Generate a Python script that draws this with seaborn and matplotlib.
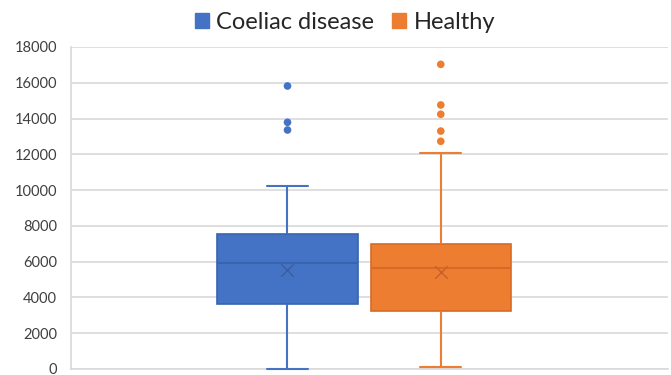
import numpy as np
import pandas as pd
import matplotlib
matplotlib.use("Agg")
import matplotlib.pyplot as plt
from matplotlib.patches import Patch
import seaborn as sns

# ---- data ----
groups = ["Coeliac disease", "Healthy"]
whisker_low = [0, 130]
q1 = [3620, 3225]
median = [5910, 5660]
q3 = [7530, 7000]
whisker_high = [10250, 12060]
means = [5530, 5400]
outliers_coeliac = [15820, 13790, 13360]
outliers_healthy = [17030, 14760, 14240, 13300, 12730]
yticks = [0, 2000, 4000, 6000, 8000, 10000, 12000, 14000, 16000, 18000]

colors = ["#4472C4", "#ED7D31"]
edge_colors = ["#3A63AE", "#D86A25"]
mean_colors = ["#3A5E9E", "#C4622A"]

# table for the boxes: values whose quartiles equal the read statistics
rows = []
for g, lo, a, m, b, hi in zip(groups, whisker_low, q1, median, q3, whisker_high):
    for v in [lo, a, a, m, b, b, hi]:
        rows.append({"cat": "", "group": g, "value": v})
box_df = pd.DataFrame(rows)

out_df = pd.DataFrame(
    [{"cat": "", "group": groups[0], "value": v} for v in outliers_coeliac]
    + [{"cat": "", "group": groups[1], "value": v} for v in outliers_healthy]
)
mean_df = pd.DataFrame({"cat": ["", ""], "group": groups, "value": means})

sns.set_theme(style="white")
plt.rcParams["font.family"] = ["Lato", "DejaVu Sans"]

fig = plt.figure(figsize=(6.71, 3.75), dpi=100)
ax = fig.add_axes([71 / 671, 1 - 369 / 375, (668 - 71) / 671, (369 - 47) / 375])

palette = dict(zip(groups, colors))
sns.boxplot(data=box_df, x="cat", y="value", hue="group", hue_order=groups,
            palette=palette, width=0.8, gap=0.085, whis=(0, 100),
            saturation=1, linewidth=1.3, legend=False, ax=ax)

# recolor box artists per group
for cont, ec, fc in zip(ax.containers, edge_colors, colors):
    for b in cont.boxes:
        b.set_facecolor(fc)
        b.set_edgecolor(ec)
        b.set_linewidth(1.2)
    for mline in cont.medians:
        mline.set_color(ec)
        mline.set_linewidth(1.5)
    for w in cont.whiskers:
        w.set_color(fc)
        w.set_linewidth(1.5)
    for c in cont.caps:
        c.set_color(fc)
        c.set_linewidth(1.5)
        c.set_zorder(5)
        c.set_clip_on(False)
        xd = np.asarray(c.get_xdata(), dtype=float)
        ctr = xd.mean()
        c.set_xdata([ctr - 0.054, ctr + 0.054])

sns.stripplot(data=out_df, x="cat", y="value", hue="group", hue_order=groups,
              palette=palette, dodge=True, jitter=False, size=5.5,
              linewidth=0, legend=False, ax=ax, zorder=4)
sns.stripplot(data=mean_df, x="cat", y="value", hue="group", hue_order=groups,
              palette=dict(zip(groups, mean_colors)), dodge=True, jitter=False,
              marker="x", size=9, linewidth=1.0, legend=False, ax=ax, zorder=4)

ax.set_xlim(-0.765, 0.793)
ax.set_ylim(0, 18000)
ax.set_yticks(yticks)
ax.set_yticklabels([str(t) for t in yticks])
ax.set_xticks([])
ax.set_xlabel("")
ax.set_ylabel("")
ax.grid(axis="y", color="#D9D9D9", linewidth=1.2)
ax.set_axisbelow(True)
for s in ["top", "right"]:
    ax.spines[s].set_visible(False)
for s in ["left", "bottom"]:
    ax.spines[s].set_color("#D9D9D9")
    ax.spines[s].set_linewidth(1.2)
    ax.spines[s].set_zorder(1)
ax.tick_params(axis="y", length=0, pad=10, labelsize=10.5, labelcolor="#404040")

handles = [Patch(facecolor=c, edgecolor=c) for c in colors]
fig.legend(handles, groups, loc="center", bbox_to_anchor=(345 / 671, 1 - 22.5 / 375),
           ncol=2, frameon=False, fontsize=17, handlelength=0.6, handleheight=0.6,
           handletextpad=0.3, columnspacing=0.76, labelcolor="#262626",
           borderpad=0.2)

fig.savefig("out.png", dpi=100)
